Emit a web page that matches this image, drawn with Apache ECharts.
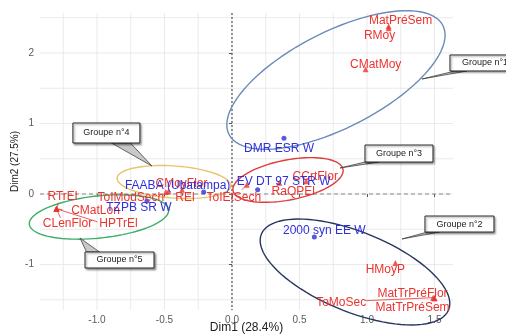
<!DOCTYPE html>
<html><head><meta charset="utf-8">
<script src="https://cdn.jsdelivr.net/npm/echarts@6/dist/echarts.min.js"></script>
<style>html,body{margin:0;padding:0;background:#fff}#c{width:506px;height:334px}</style>
</head><body><div id="c"></div>
<script>
// ---- data ----
const xTickValues = [-1.0, -0.5, 0.0, 0.5, 1.0, 1.5];
const yTickValues = [-1, 0, 1, 2];
const xGridValues = [-1.25, -1, -0.75, -0.5, -0.25, 0, 0.25, 0.5, 0.75, 1, 1.25, 1.5];
const yGridValues = [-1.5, -1, -0.5, 0, 0.5, 1, 1.5, 2, 2.5];
const xTitle = 'Dim1 (28.4%)';
const yTitle = 'Dim2 (27.5%)';

const varNames = ['MatPréSem','RMoy','CMatMoy','CCrtFlor','RaQPEl','ToIEtSech','CMoyFlor','REl','ToIModSech','RTrEl','CMatLon','CLenFlor','HPTrEl','HMoyP','MatTrPréFlor','MatTrPréSem','ToMoSec'];
const varDim1 = [1.16, 1.16, 0.99, 0.55, 0.35, 0.11, -0.47, -0.37, -0.49, -1.30, -1.30, -1.30, -1.30, 1.21, 1.50, 1.50, 1.49];
const varDim2 = [2.38, 2.35, 1.77, 0.18, 0.16, 0.13, 0.04, 0.06, 0.03, -0.21, -0.21, -0.21, -0.21, -0.98, -1.48, -1.48, -1.47];

const indNames = ['DMR ESR W','EV DT 97 STR W','2000 syn EE W','FAABA (Ubatampa)','TZPB SR W'];
const indDim1 = [0.385, 0.19, 0.61, -0.21, -0.63];
const indDim2 = [0.79, 0.06, -0.61, 0.03, -0.10];

const groupNames = ['Groupe n°1','Groupe n°2','Groupe n°3','Groupe n°4','Groupe n°5'];
const groupCenterX = [0.770, 0.911, 0.415, -0.430, -0.985];
const groupCenterY = [1.617, -1.106, 0.199, 0.170, -0.326];
const groupSemiMajor = [0.889, 0.748, 0.415, 0.422, 0.519];
const groupSemiMinor = [0.356, 0.296, 0.148, 0.119, 0.156];
const groupAngle = [27, -22, 11, -4, 6];
const calloutX = [1.874, 1.685, 1.237, -0.930, -0.833];
const calloutY = [1.858, -0.426, 0.574, 0.865, -0.936];
const calloutTipX = [1.407, 1.259, 0.800, -0.593, -1.126];
const calloutTipY = [1.631, -0.638, 0.369, 0.397, -0.624];

// ---- styles ----
const RED = '#ea3430', BLUE = '#3030d8';
const FONT = '"Liberation Sans", Arial, sans-serif';
const varLabelOffset = [[12,-5],[-9,7],[10,-5],[9,-5],[14,9],[-13,13],[13,-7],[3,8],[-35,6],[6,-12],[39,2],[11,15],[62,15],[-10,7],[-22,-5],[-22,9],[-92,5]];
const varSegment = [null,null,null,null,null,[-5,5],null,null,null,[2,-6],[6,1],[4,9],[41,13],null,null,null,[-67,3]];
const indLabelOffset = [[-5,10],[26,-8],[10,-6],[-26,-6],[-8,7]];
const groupColors = ['#6a8cba', '#26365e', '#e03c3c', '#e9c46a', '#3fae6a'];
const calloutSize = [[70,16],[69,16],[68,17],[67,20],[69,16]];
const calloutBase = [[[-30,8],[-18,8]], [[-32,8],[-20,8]], [[-34,8.5],[-20,8.5]], [[5,10],[24,10]], [[-33,-8],[-20,-8]]];

function labelRenderer(names, offsets, segs, color) {
  return function (params, api) {
    const i = params.dataIndex;
    const p = api.coord([api.value(0), api.value(1)]);
    const o = offsets[i];
    const children = [];
    const s = segs ? segs[i] : null;
    if (s) children.push({type:'line', shape:{x1:p[0], y1:p[1], x2:p[0]+s[0], y2:p[1]+s[1]}, style:{stroke:color, lineWidth:0.8}});
    children.push({type:'text', x:p[0]+o[0], y:p[1]+o[1], style:{text:names[i], fill:color, font:'12px ' + FONT, align:'center', verticalAlign:'middle'}});
    return {type:'group', children};
  };
}

const chart = echarts.init(document.getElementById('c'), null, {renderer:'canvas'});
chart.setOption({
  animation: false,
  backgroundColor: '#fff',
  grid: {left: 40, right: 53, top: 13, bottom: 24, containLabel: false, outerBoundsMode: 'none'},
  xAxis: {
    type: 'value', min: -1.422, max: 1.637,
    axisLine: {show: false},
    splitLine: {show: false},
    axisTick: {show: true, customValues: xTickValues, length: 3, lineStyle: {color: '#555'}},
    axisLabel: {customValues: xTickValues, formatter: v => v.toFixed(1), color: '#5a5a5a', fontSize: 10, fontFamily: FONT, margin: 5},
    name: xTitle, nameLocation: 'middle', nameGap: 12, nameMoveOverlap: false,
    nameTextStyle: {color: '#222', fontSize: 12, fontFamily: FONT, verticalAlign: 'top'}
  },
  yAxis: {
    type: 'value', min: -1.645, max: 2.567,
    axisLine: {show: false},
    splitLine: {show: false},
    axisTick: {show: true, customValues: yTickValues, length: 3, lineStyle: {color: '#555'}},
    axisLabel: {customValues: yTickValues, formatter: v => String(v), color: '#5a5a5a', fontSize: 10, fontFamily: FONT, margin: 6},
    name: yTitle, nameLocation: 'middle', nameGap: 20, nameRotate: 90, nameMoveOverlap: false,
    nameTextStyle: {color: '#222', fontSize: 10, fontFamily: FONT}
  },
  series: [
    { // vertical grid lines
      type: 'custom', z: 0, silent: true, clip: false,
      data: xGridValues.map(v => [v, 0]),
      renderItem: (params, api) => {
        const cs = params.coordSys; const x = api.coord([api.value(0), 0])[0];
        return {type:'line', shape:{x1:x, y1:cs.y, x2:x, y2:cs.y+cs.height}, style:{stroke:'#e8e8e8', lineWidth:0.9}};
      }
    },
    { // horizontal grid lines
      type: 'custom', z: 0, silent: true, clip: false,
      data: yGridValues.map(v => [0, v]),
      renderItem: (params, api) => {
        const cs = params.coordSys; const y = api.coord([0, api.value(1)])[1];
        return {type:'line', shape:{x1:cs.x, y1:y, x2:cs.x+cs.width, y2:y}, style:{stroke:'#e8e8e8', lineWidth:0.9}};
      }
    },
    { // zero reference lines
      type: 'custom', z: 1, silent: true, clip: false,
      data: [[0, 0]],
      renderItem: (params, api) => {
        const cs = params.coordSys; const p = api.coord([0, 0]);
        return {type:'group', children:[
          {type:'line', shape:{x1:p[0], y1:cs.y, x2:p[0], y2:cs.y+cs.height}, style:{stroke:'#555', lineWidth:1.2, lineDash:[2,2]}},
          {type:'line', shape:{x1:cs.x, y1:p[1], x2:cs.x+cs.width, y2:p[1]}, style:{stroke:'#888', lineWidth:1.2, lineDash:[4,3]}}
        ]};
      }
    },
    { // group ellipses
      type: 'custom', z: 2, silent: true, clip: false,
      data: groupCenterX.map((x, i) => [x, groupCenterY[i], groupSemiMajor[i], groupSemiMinor[i], groupAngle[i]]),
      renderItem: (params, api) => {
        const i = params.dataIndex;
        const c = api.coord([api.value(0), api.value(1)]);
        const ux = api.size([1, 0])[0];
        const a = api.value(2) * ux, b = api.value(3) * ux, th = api.value(4) * Math.PI / 180;
        const pts = [];
        for (let k = 0; k < 90; k++) {
          const t = k / 90 * 2 * Math.PI;
          pts.push([c[0] + a*Math.cos(t)*Math.cos(th) + b*Math.sin(t)*Math.sin(th),
                    c[1] - a*Math.cos(t)*Math.sin(th) + b*Math.sin(t)*Math.cos(th)]);
        }
        return {type:'polygon', shape:{points:pts}, style:{fill:'none', stroke:groupColors[i], lineWidth:1.4}};
      }
    },
    {
      type: 'scatter', z: 3, silent: true,
      symbol: 'triangle', symbolSize: 6,
      itemStyle: {color: RED},
      data: varDim1.map((x, i) => [x, varDim2[i]])
    },
    {
      type: 'scatter', z: 3, silent: true,
      symbol: 'circle', symbolSize: 5,
      itemStyle: {color: BLUE},
      data: indDim1.map((x, i) => [x, indDim2[i]])
    },
    {
      type: 'custom', z: 4, silent: true, clip: false,
      data: varDim1.map((x, i) => [x, varDim2[i]]),
      renderItem: labelRenderer(varNames, varLabelOffset, varSegment, RED)
    },
    {
      type: 'custom', z: 4, silent: true, clip: false,
      data: indDim1.map((x, i) => [x, indDim2[i]]),
      renderItem: labelRenderer(indNames, indLabelOffset, null, BLUE)
    },
    { // callout boxes
      type: 'custom', z: 5, silent: true, clip: false,
      data: calloutX.map((x, i) => [x, calloutY[i], calloutTipX[i], calloutTipY[i]]),
      renderItem: (params, api) => {
        const i = params.dataIndex;
        const c = api.coord([api.value(0), api.value(1)]);
        const tip = api.coord([api.value(2), api.value(3)]);
        const w = calloutSize[i][0], h = calloutSize[i][1], bs = calloutBase[i];
        return {type:'group', children:[
          {type:'polygon', shape:{points:[[c[0]+bs[0][0], c[1]+bs[0][1]], [c[0]+bs[1][0], c[1]+bs[1][1]], tip]},
           style:{fill:'#c8c8c8', stroke:'#444', lineWidth:0.8}},
          {type:'rect', shape:{x:c[0]-w/2, y:c[1]-h/2, width:w, height:h},
           style:{fill:'#fff', stroke:'#222', lineWidth:1, shadowBlur:2, shadowOffsetX:1.5, shadowOffsetY:1.5, shadowColor:'rgba(0,0,0,0.35)'}},
          {type:'text', x:c[0], y:c[1], style:{text:groupNames[i], fill:'#222', font:'9px ' + FONT, align:'center', verticalAlign:'middle'}}
        ]};
      }
    }
  ]
});
</script>
</body></html>
